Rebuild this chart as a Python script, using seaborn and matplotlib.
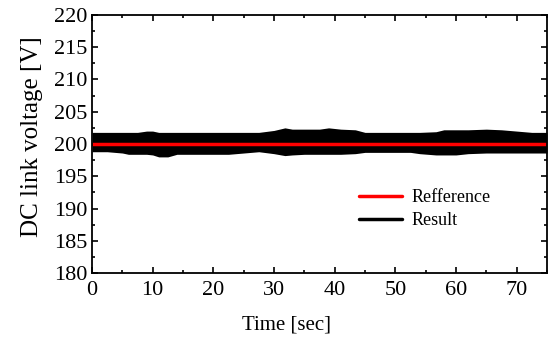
import numpy as np
import pandas as pd
import matplotlib
matplotlib.use("Agg")
import matplotlib.pyplot as plt
import seaborn as sns
from matplotlib.lines import Line2D
from matplotlib.ticker import MultipleLocator

time_s = [0, 2.5, 5, 6, 7.5, 9, 10, 11, 12.5, 14, 15, 17.5, 20, 22.5, 25, 27.5, 30, 31.8, 33,
          35, 37.5, 39, 41, 43.4, 45, 47.5, 50, 52.5, 54, 56.7, 58, 60, 62, 65, 67.5, 70, 72.5, 75]
result_upper = [201.8, 201.8, 201.8, 201.8, 201.8, 202.0, 202.0, 201.8, 201.8, 201.8, 201.8, 201.8,
                201.8, 201.8, 201.8, 201.8, 202.1, 202.5, 202.3, 202.3, 202.3, 202.5, 202.3, 202.2,
                201.8, 201.8, 201.8, 201.8, 201.8, 201.9, 202.2, 202.2, 202.2, 202.3, 202.2, 202.0,
                201.8, 201.8]
result_lower = [198.8, 198.8, 198.6, 198.4, 198.4, 198.4, 198.3, 198.0, 198.0, 198.4, 198.4, 198.4,
                198.4, 198.4, 198.6, 198.8, 198.5, 198.2, 198.3, 198.4, 198.4, 198.4, 198.4, 198.5,
                198.7, 198.7, 198.7, 198.7, 198.5, 198.3, 198.3, 198.3, 198.5, 198.6, 198.6, 198.6,
                198.6, 198.6]
ref_time = [0, 75]
ref_voltage = [200, 200]

sns.set_style("ticks")
plt.rcParams['font.family'] = ['Liberation Serif', 'DejaVu Serif']
plt.rcParams['text.color'] = 'black'
plt.rcParams['axes.labelcolor'] = 'black'
plt.rcParams['xtick.color'] = 'black'
plt.rcParams['ytick.color'] = 'black'

fig = plt.figure(figsize=(5.5, 3.4), dpi=100)
ax = fig.add_axes([0.1673, 0.197, 0.8272, 0.759])

ax.fill_between(time_s, result_lower, result_upper, color='black', linewidth=0)
ref_df = pd.DataFrame({'time': ref_time, 'voltage': ref_voltage})
sns.lineplot(data=ref_df, x='time', y='voltage', color='red', linewidth=2.5, ax=ax)

ax.set_xlim(0, 75)
ax.set_ylim(180, 220)
ax.xaxis.set_major_locator(MultipleLocator(10))
ax.xaxis.set_minor_locator(MultipleLocator(5))
ax.yaxis.set_major_locator(MultipleLocator(5))
ax.yaxis.set_minor_locator(MultipleLocator(2.5))
ax.tick_params(which='both', direction='in', top=True, right=True, labelsize=16, width=1.2,
               color='black', labelcolor='black')
ax.tick_params(which='major', length=4)
ax.tick_params(which='minor', length=2.5)
ax.tick_params(axis='x', which='major', pad=6)
ax.tick_params(axis='y', which='major', pad=3)
for s in ax.spines.values():
    s.set_linewidth(1.3)
    s.set_color('black')

ax.set_xlabel('Time [sec]', fontsize=15)
ax.set_ylabel('DC link voltage [V]', fontsize=18)
ax.xaxis.set_label_coords(0.427, -0.163)
ax.yaxis.set_label_coords(-0.108, 0.529)

handles = [Line2D([], [], color='red', linewidth=2.5), Line2D([], [], color='black', linewidth=2.5)]
ax.legend(handles, ['Refference', 'Result'], loc='upper left', bbox_to_anchor=(0.587, 0.325),
          frameon=False, fontsize=13, handlelength=2.4, handletextpad=0.5, labelspacing=0.35,
          borderpad=0, borderaxespad=0)

fig.savefig('out.png', dpi=100)
